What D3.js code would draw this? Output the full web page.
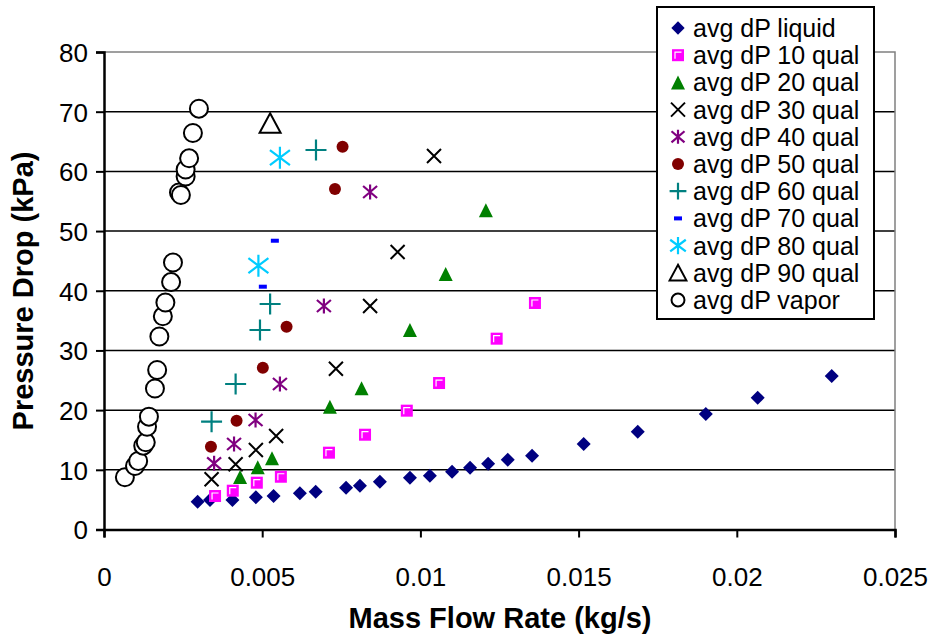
<!DOCTYPE html>
<html><head><meta charset="utf-8">
<script src="https://cdn.jsdelivr.net/npm/d3@7"></script>
<style>
body{margin:0;background:#fff;}
text{font-family:"Liberation Sans",Arial,sans-serif;}
</style></head>
<body><svg id="c" width="937" height="637"></svg>
<script>
// ---- data (x: kg/s, y: kPa) ----
const liquidX = [0.00296,0.00335,0.00406,0.00480,0.00536,0.00619,0.00669,0.00765,0.00809,0.00872,0.00967,0.01030,0.01100,0.01157,0.01214,0.01276,0.01353,0.01516,0.01687,0.01902,0.02066,0.02300];
const liquidY = [4.66,4.94,4.94,5.39,5.61,6.06,6.33,7.00,7.34,8.01,8.68,9.01,9.68,10.35,11.02,11.69,12.36,14.32,16.38,19.35,22.08,25.72];
const q10X = [0.00351,0.00407,0.00483,0.00559,0.00711,0.00825,0.00957,0.01059,0.01241,0.01362];
const q10Y = [5.61,6.50,7.84,8.84,12.87,15.88,19.91,24.54,31.97,37.95];
const q20X = [0.00430,0.00486,0.00531,0.00714,0.00814,0.00967,0.01080,0.01207];
const q20Y = [8.8,10.42,11.93,20.57,23.66,33.42,42.8,53.5];
const q30X = [0.00340,0.00416,0.00480,0.00544,0.00733,0.00841,0.00928,0.01043];
const q30Y = [8.41,10.92,13.32,15.66,26.94,37.44,46.49,62.57];
const q40X = [0.00348,0.00411,0.00479,0.00556,0.00695,0.00841];
const q40Y = [11.09,14.32,18.34,24.38,37.44,56.54];
const q50X = [0.00338,0.00419,0.00502,0.00577,0.00730,0.00754];
const q50Y = [13.87,18.23,27.11,33.98,57.04,64.13];
const q60X = [0.00340,0.00416,0.00493,0.00525,0.00670];
const q60Y = [18.06,24.38,33.42,37.78,63.58];
const q70X = [0.00502,0.00540];
const q70Y = [40.68,48.38];
const q80X = [0.00488,0.00556];
const q80Y = [44.2,62.29];
const q90X = [0.00525];
const q90Y = [68.05];
const vaporX = [0.00066,0.00098,0.00108,0.00124,0.00132,0.00136,0.00142,0.00161,0.00168,0.00175,0.00186,0.00194,0.00212,0.00218,0.00237,0.00243,0.00258,0.00258,0.00269,0.00281,0.00300];
const vaporY = [8.75,10.64,11.48,14.04,14.61,17.22,18.9,23.62,26.72,32.33,35.72,38.03,41.46,44.73,56.46,56.04,59.14,60.31,62.19,66.43,70.5];

const seriesNames = ["avg dP liquid","avg dP 10 qual","avg dP 20 qual","avg dP 30 qual","avg dP 40 qual","avg dP 50 qual","avg dP 60 qual","avg dP 70 qual","avg dP 80 qual","avg dP 90 qual","avg dP vapor"];
const xTicks = [0,0.005,0.01,0.015,0.02,0.025];
const xTickLabels = ["0","0.005","0.01","0.015","0.02","0.025"];
const yTicks = [0,10,20,30,40,50,60,70,80];
const xTitle = "Mass Flow Rate (kg/s)";
const yTitle = "Pressure Drop (kPa)";

// ---- styles ----
const styles = [
  {shape:"diamond", color:"#000080"},
  {shape:"square",  color:"#FF00FF"},
  {shape:"triangle",color:"#008000"},
  {shape:"x",       color:"#000000"},
  {shape:"asterisk",color:"#800080"},
  {shape:"dot",     color:"#800000"},
  {shape:"plus",    color:"#008080"},
  {shape:"dash",    color:"#0000FF"},
  {shape:"star",    color:"#00CCFF"},
  {shape:"otri",    color:"#000000"},
  {shape:"ocircle", color:"#000000"}
];
const seriesData = [
  [liquidX,liquidY],[q10X,q10Y],[q20X,q20Y],[q30X,q30Y],[q40X,q40Y],[q50X,q50Y],
  [q60X,q60Y],[q70X,q70Y],[q80X,q80Y],[q90X,q90Y],[vaporX,vaporY]
];

const svg = d3.select("#c");
const L=104, R=895, T=52, B=529.5;
const x = d3.scaleLinear().domain([0,0.025]).range([L,R]);
const y = d3.scaleLinear().domain([0,80]).range([B,T]);

// gridlines
svg.append("g").selectAll("line").data(yTicks.filter(v=>v>0 && v<80)).join("line")
  .attr("x1",L).attr("x2",R).attr("y1",d=>y(d)).attr("y2",d=>y(d))
  .attr("stroke","#000").attr("stroke-width",1.5);
// plot border top/right
svg.append("path").attr("d",`M${L},${y(80)}H${R}V${B}`).attr("fill","none").attr("stroke","#808080").attr("stroke-width",1.5);

// axes
const yAxis = d3.axisLeft(y).tickValues(yTicks).tickSize(8).tickPadding(10).tickFormat(d3.format("d"));
const gy = svg.append("g").attr("transform",`translate(${L},0)`).call(yAxis);
gy.select(".domain").attr("stroke","#000").attr("stroke-width",2.5);
gy.selectAll(".tick line").attr("stroke","#000").attr("stroke-width",2);
gy.selectAll(".tick text").attr("font-size",26).attr("fill","#000").attr("font-family","Liberation Sans, Arial, sans-serif").attr("dy","0.36em").attr("x",-16);

const xAxis = d3.axisBottom(x).tickValues(xTicks).tickSize(8).tickPadding(10).tickFormat((d,i)=>xTickLabels[i]);
const gx = svg.append("g").attr("transform",`translate(0,${B})`).call(xAxis);
gx.select(".domain").attr("stroke","#000").attr("stroke-width",2.5);
gx.selectAll(".tick line").attr("stroke","#000").attr("stroke-width",2);
gx.selectAll(".tick text").attr("font-size",26).attr("fill","#000").attr("font-family","Liberation Sans, Arial, sans-serif").attr("y",47).attr("dy","0.36em");

// titles
svg.append("text").attr("x",500).attr("y",628).attr("text-anchor","middle")
  .attr("font-size",29).attr("font-weight","bold").text(xTitle);
svg.append("text").attr("transform","translate(33,291) rotate(-90)").attr("text-anchor","middle")
  .attr("font-size",29).attr("font-weight","bold").text(yTitle);

// marker drawing
function drawMarker(g, shape, color, k){
  k = k||1;
  switch(shape){
    case "diamond":
      g.append("path").attr("d",`M0,${-7*k}L${7*k},0L0,${7*k}L${-7*k},0Z`).attr("fill",color); break;
    case "square":
      g.append("rect").attr("x",-6*k).attr("y",-6*k).attr("width",12*k).attr("height",12*k).attr("fill",color);
      g.append("path").attr("d",`M${-3*k},${3.5*k}V${-3*k}H${3.5*k}`).attr("fill","none").attr("stroke","#fff").attr("stroke-width",1.2); break;
    case "triangle":
      g.append("path").attr("d",`M0,${-7*k}L${7*k},${7*k}L${-7*k},${7*k}Z`).attr("fill",color); break;
    case "x":
      g.append("path").attr("d",`M${-7*k},${-7*k}L${7*k},${7*k}M${-7*k},${7*k}L${7*k},${-7*k}`).attr("stroke",color).attr("stroke-width",2); break;
    case "asterisk":
      g.append("path").attr("d",`M${-7*k},${-6*k}L${7*k},${6*k}M${-7*k},${6*k}L${7*k},${-6*k}M0,${-7.5*k}V${7.5*k}`).attr("stroke",color).attr("stroke-width",2.2); break;
    case "dot":
      g.append("circle").attr("r",6*k).attr("fill",color); break;
    case "plus":
      g.append("path").attr("d",`M${-10.5*k},0H${10.5*k}M0,${-10.5*k}V${10.5*k}`).attr("stroke",color).attr("stroke-width",2.2); break;
    case "dash":
      g.append("rect").attr("x",-4).attr("y",-2).attr("width",8).attr("height",4).attr("fill",color); break;
    case "star":
      g.append("path").attr("d",`M0,${-11*k}V${11*k}M${-10*k},${-7.5*k}L${10*k},${7.5*k}M${-10*k},${7.5*k}L${10*k},${-7.5*k}`).attr("stroke",color).attr("stroke-width",2.2); break;
    case "otri":
      g.append("path").attr("d",`M0,${-10*k}L${10.5*k},${9.5*k}L${-10.5*k},${9.5*k}Z`).attr("fill","#fff").attr("stroke",color).attr("stroke-width",2); break;
    case "ocircle":
      g.append("circle").attr("r",9*k).attr("fill","#fff").attr("stroke",color).attr("stroke-width",2); break;
  }
}

seriesData.forEach((s,i)=>{
  const pts = s[0].map((xv,j)=>({x:xv,y:s[1][j]}));
  const g = svg.append("g");
  g.selectAll("g").data(pts).join("g")
    .attr("transform",d=>`translate(${x(d.x)},${y(d.y)})`)
    .each(function(){ drawMarker(d3.select(this), styles[i].shape, styles[i].color); });
});

// legend
const lg = svg.append("g");
lg.append("rect").attr("x",657).attr("y",7).attr("width",217).attr("height",312)
  .attr("fill","#fff").attr("stroke","#000").attr("stroke-width",2);
const legendScale = {diamond:0.95,square:1,triangle:1,x:1,asterisk:0.93,dot:1,plus:0.8,dash:1,star:0.78,otri:0.8,ocircle:0.72};
seriesNames.forEach((n,i)=>{
  const cy = 28 + i*27.2;
  const g = lg.append("g").attr("transform",`translate(678,${cy})`);
  drawMarker(g, styles[i].shape, styles[i].color, legendScale[styles[i].shape]);
  lg.append("text").attr("x",693).attr("y",cy).attr("dy","0.36em").attr("font-size",25).attr("fill","#000").text(n);
});
</script></body></html>
